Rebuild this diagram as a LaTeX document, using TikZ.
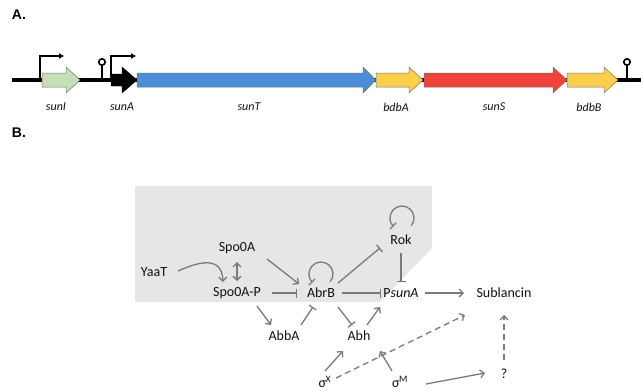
\documentclass[tikz,border=0pt]{standalone}
\usepackage{fontspec}
\setmainfont{Carlito}
\newfontfamily\arialf{Liberation Sans}
\usetikzlibrary{arrows.meta,calc}
\definecolor{edgegray}{HTML}{7A7A7A}
\definecolor{txt}{HTML}{111111}
\definecolor{bgGray}{HTML}{E6E6E6}
\definecolor{gGreen}{HTML}{C5E0B4}
\definecolor{gBlue}{HTML}{4A8FD6}
\definecolor{gYellow}{HTML}{FBCF4A}
\definecolor{gRed}{HTML}{F0413A}
\newcommand\genearrow[5]{\draw[genebox,fill=#4] (#1,73) -- (#2,73) -- (#2,67) -- (#3,80) -- (#2,93) -- (#2,87) -- (#1,87) -- cycle;}
\tikzset{
  genebox/.style={draw=black!55, line width=0.5pt},
  genelbl/.style={font=\fontsize{12}{14}\selectfont\itshape, text=txt, inner sep=0pt},
  panel/.style={font=\arialf\bfseries\fontsize{14}{16}\selectfont, inner sep=0pt},
  lbl/.style={font=\fontsize{14}{16}\selectfont, text=txt, inner sep=0pt},
  act/.style={draw=edgegray, line width=1.3pt, -{Straight Barb[length=4pt,width=8pt]}},
  dact/.style={act, dash pattern=on 6pt off 4pt},
  inh/.style={draw=edgegray, line width=1.3pt, -{Bar[width=9pt,line width=1.3pt]}},
  prom/.style={draw=black, line width=1.4pt, -{Triangle[length=5pt,width=5pt]}},
}
\begin{document}
\begin{tikzpicture}[x=1pt,y=-1pt]
\useasboundingbox (0,0) rectangle (641,391);
% ---------- Panel A ----------
\node[panel] (pa) at (19,15) {A.};
\draw[line width=3.5pt] (12,80) -- (641,80);
\draw[prom] (40,80) -- (40,56) -- (64,56);
\draw[prom] (111,80) -- (111,56) -- (136,56);
\genearrow{42}{66}{80}{gGreen}{}
\draw[fill=black] (111,74) -- (122,74) -- (122,67) -- (137,80) -- (122,93) -- (122,86) -- (111,86) -- cycle;
\genearrow{137}{363}{376}{gBlue}{}
\genearrow{376}{409}{423}{gYellow}{}
\genearrow{424}{553}{567}{gRed}{}
\genearrow{567}{604}{618}{gYellow}{}
\draw[line width=2pt] (102,80) -- (102,66);
\draw[line width=1.6pt, fill=white] (102,62) circle (3.2);
\draw[line width=2pt] (627,80) -- (627,66);
\draw[line width=1.6pt, fill=white] (627,62) circle (3.2);
\node[genelbl] (gI) at (56,107) {sunI};
\node[genelbl] (gA) at (122,107) {sunA};
\node[genelbl] (gT) at (249,107) {sunT};
\node[genelbl] (gbA) at (396,107) {bdbA};
\node[genelbl] (gS) at (494,107) {sunS};
\node[genelbl] (gbB) at (589,107) {bdbB};
% ---------- Panel B ----------
\node[panel] (pb) at (19,133) {B.};
\fill[bgGray] (135,186) -- (432,186) -- (432,248) -- (380,302) -- (135,302) -- cycle;
\node[lbl] (spo0a) at (237,248) {Spo0A};
\node[lbl] (yaat) at (154,272) {YaaT};
\node[lbl] (spo0ap) at (237,293) {Spo0A-P};
\node[lbl] (abrb) at (321,293) {AbrB};
\node[lbl] (psuna) at (401,293) {P\textit{sunA}};
\node[lbl] (sub) at (504,293) {Sublancin};
\node[lbl] (rok) at (401,240) {Rok};
\node[lbl] (abba) at (284,336) {AbbA};
\node[lbl] (abh) at (359,336) {Abh};
\node[lbl] (sx) at (325,382) {σ\kern-0.5pt\textsuperscript{X}};
\node[lbl] (sm) at (400,382) {σ\kern-0.5pt\textsuperscript{M}};
\node[lbl] (q) at (504,374) {?};
% edges
\draw[act] ($(yaat)+(24,-1)$) .. controls ($(yaat)+(44,-10)$) and ($(spo0ap)+(-15,-38)$) .. ($(spo0ap)+(-14,-11)$);
\draw[draw=edgegray, line width=1.3pt, {Straight Barb[length=4pt,width=8pt]}-{Straight Barb[length=4pt,width=8pt]}] ($(spo0a)+(0,14)$) -- ($(spo0ap)+(0,-12)$);
\draw[act] ($(spo0a)+(30,11)$) -- ($(abrb)+(-22,-9)$);
\draw[inh] ($(abrb)+(9.2,-11.3)$) arc[start angle=40, end angle=-225, radius=12];
\draw[inh] ($(abrb)+(17,-10)$) -- ($(rok)+(-21,8)$);
\draw[inh] ($(rok)+(10.2,-14.3)$) arc[start angle=40, end angle=-225, radius=12];
\draw[inh] ($(rok)+(0,13)$) -- ($(psuna)+(0,-11)$);
\draw[inh] ($(spo0ap)+(35,0)$) -- ($(abrb)+(-24,0)$);
\draw[inh] ($(abrb)+(21,0)$) -- ($(psuna)+(-20,0)$);
\draw[act] ($(spo0ap)+(20,13)$) -- ($(abba)+(-13,-11)$);
\draw[inh] ($(abba)+(17,-11)$) -- ($(abrb)+(-8,14)$);
\draw[inh] ($(abrb)+(17,14)$) -- ($(abh)+(-7,-11)$);
\draw[act] ($(abh)+(8,-11)$) -- ($(psuna)+(-21,14)$);
\draw[act] ($(psuna)+(24,0)$) -- ($(sub)+(-40,0)$);
\draw[act] ($(sx)+(0,-11)$) -- ($(abh)+(-16,15)$);
\draw[dact] ($(sx)+(11,-4)$) -- ($(sub)+(-39,22)$);
\draw[act] ($(sm)+(-8,-11)$) -- ($(abh)+(21,15)$);
\draw[act] ($(sm)+(26,2)$) -- ($(q)+(-19,-1)$);
\draw[dact] ($(q)+(0,-14)$) -- ($(sub)+(0,22)$);
\end{tikzpicture}
\end{document}
